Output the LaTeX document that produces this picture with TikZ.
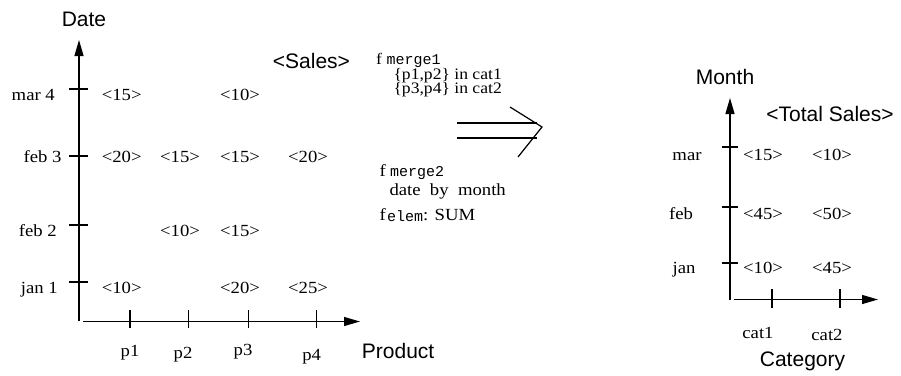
\documentclass[tikz,border=0pt]{standalone}
\usepackage{fontspec}
\setmainfont{Liberation Serif}[FakeStretch=1.1]
\setsansfont{Liberation Sans}
\setmonofont{Liberation Mono}
\usetikzlibrary{arrows.meta}
\begin{document}
\begin{tikzpicture}[x=1pt,y=-1pt,
  serif/.style={font=\fontsize{17}{20}\selectfont, inner sep=0pt},
  tight/.style={font=\fontsize{16}{18}\selectfont, inner sep=0pt, text height=10pt, text depth=2pt},
  sans/.style={font=\sffamily\fontsize{21}{24}\selectfont, inner sep=0pt},
  axis/.style={line width=1.3pt, -{Triangle[length=16pt,width=9pt]}},
  tick/.style={line width=1.3pt}]
\useasboundingbox (0,0) rectangle (901,375);
% ---------- left chart ----------
\coordinate (lo) at (79,321);
\coordinate (ltop) at (79,40);
\coordinate (lxs) at (83,321.5);
\coordinate (lxe) at (360,321.5);
\draw[axis] (lo) -- (ltop);
\draw[axis] (lxs) -- (lxe);
\foreach \n/\y in {a/89,b/156,c/225,d/282}{
  \coordinate (ly\n1) at (69,\y); \coordinate (ly\n2) at (88,\y);
  \draw[tick] (ly\n1) -- (ly\n2);}
\foreach \n/\x in {a/130,b/188.7,c/248.7,d/316.7}{
  \coordinate (lx\n1) at (\x,310); \coordinate (lx\n2) at (\x,328);
  \draw[tick] (lx\n1) -- (lx\n2);}
\node[sans,anchor=base] (date) at (84,26) {Date};
\node[sans,anchor=base west] (sales) at (272.7,68.3) {<Sales>};
\node[sans,anchor=base west] (product) at (361.7,358.3) {Product};
\node[serif,anchor=base east] (r1) at (55,100) {mar 4};
\node[serif,anchor=base east] (r2) at (61.7,162) {feb 3};
\node[serif,anchor=base east] (r3) at (57,236.7) {feb 2};
\node[serif,anchor=base east] (r4) at (58,293) {jan 1};
\node[serif,anchor=base] (p1) at (130,356) {p1};
\node[serif,anchor=base] (p2) at (183,358.3) {p2};
\node[serif,anchor=base] (p3) at (243,355) {p3};
\node[serif,anchor=base] (p4) at (311.7,360) {p4};
% cells
\node[serif,anchor=base] (c11) at (121.7,100) {<15>};
\node[serif,anchor=base] (c13) at (240,100) {<10>};
\node[serif,anchor=base] (c21) at (121.7,162) {<20>};
\node[serif,anchor=base] (c22) at (180,162) {<15>};
\node[serif,anchor=base] (c23) at (240,162) {<15>};
\node[serif,anchor=base] (c24) at (308,162) {<20>};
\node[serif,anchor=base] (c32) at (180,236.7) {<10>};
\node[serif,anchor=base] (c33) at (240,236.7) {<15>};
\node[serif,anchor=base] (c41) at (121.7,293) {<10>};
\node[serif,anchor=base] (c43) at (240,293) {<20>};
\node[serif,anchor=base] (c44) at (308,293) {<25>};
% ---------- middle ----------
\node[tight,anchor=base west] (m1) at (376,64.5) {f\hspace{4.5pt}{\ttfamily\fontsize{15}{18}\selectfont merge1}};
\node[tight,anchor=base west] (m1a) at (393.3,79) {\{p1,p2\} in cat1};
\node[tight,anchor=base west] (m1b) at (393.3,93.5) {\{p3,p4\} in cat2};
\node[serif,anchor=base west] (m2) at (379.3,176.7) {f\hspace{4.5pt}{\ttfamily\fontsize{15}{18}\selectfont merge2}};
\node[serif,anchor=base west] (m2a) at (389.3,195) {date\ \ by\ \ month};
\node[serif,anchor=base west] (fe) at (379.3,220) {f\hspace{1.5pt}\raisebox{-1pt}{\ttfamily\fontsize{15}{18}\selectfont elem}: SUM};
\coordinate (d1s) at (457,123); \coordinate (d1e) at (537,123);
\coordinate (d2s) at (457,138); \coordinate (d2e) at (537,138);
\coordinate (ha) at (510,107); \coordinate (hb) at (542,127); \coordinate (hc) at (518,157);
\draw[line width=1.2pt] (d1s) -- (d1e);
\draw[line width=1.2pt] (d2s) -- (d2e);
\draw[line width=1.2pt] (ha) -- (hb) -- (hc);
% ---------- right chart ----------
\coordinate (ro) at (730,300);
\coordinate (rtop) at (730,98);
\coordinate (rxs) at (734,299.5);
\coordinate (rxe) at (878,299.5);
\draw[axis] (ro) -- (rtop);
\draw[axis] (rxs) -- (rxe);
\foreach \n/\y in {a/147,b/207,c/263}{
  \coordinate (ry\n1) at (722,\y); \coordinate (ry\n2) at (738,\y);
  \draw[tick] (ry\n1) -- (ry\n2);}
\foreach \n/\x in {a/772,b/840}{
  \coordinate (rx\n1) at (\x,289); \coordinate (rx\n2) at (\x,308);
  \draw[tick] (rx\n1) -- (rx\n2);}
\node[sans,anchor=base] (month) at (725,84) {Month};
\node[sans,anchor=base] (total) at (830,121.7) {<Total Sales>};
\node[sans,anchor=base] (category) at (802.5,366.7) {Category};
\node[serif,anchor=base] (mar) at (687,160) {mar};
\node[serif,anchor=base] (feb) at (681,219.3) {feb};
\node[serif,anchor=base] (jan) at (684,273.3) {jan};
\node[serif,anchor=base] (cat1) at (758,338.3) {cat1};
\node[serif,anchor=base] (cat2) at (827,340) {cat2};
\node[serif,anchor=base] (t11) at (763,160) {<15>};
\node[serif,anchor=base] (t12) at (832,160) {<10>};
\node[serif,anchor=base] (t21) at (763,219.3) {<45>};
\node[serif,anchor=base] (t22) at (832,219.3) {<50>};
\node[serif,anchor=base] (t31) at (763,273.3) {<10>};
\node[serif,anchor=base] (t32) at (832,273.3) {<45>};
\end{tikzpicture}
\end{document}
